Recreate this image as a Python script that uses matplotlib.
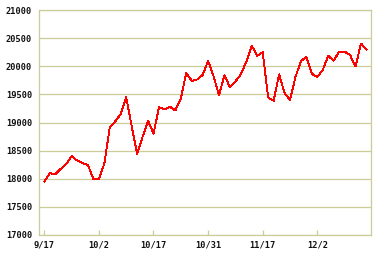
import matplotlib
matplotlib.use("Agg")
import matplotlib.pyplot as plt

# Daily index values (one per trading day)
values = [
    17950, 18100, 18080, 18175, 18260, 18400, 18325, 18280, 18245, 17990,
    18000, 18270, 18920, 19020, 19150, 19450, 18940, 18440, 18745, 19035,
    18800, 19270, 19235, 19280, 19215, 19420, 19885, 19740, 19765, 19845,
    20095, 19825, 19485, 19845, 19625, 19730, 19855, 20080, 20365, 20185,
    20250, 19445, 19385, 19855, 19525, 19400, 19810, 20090, 20170, 19865,
    19810, 19935, 20185, 20100, 20260, 20260, 20200, 19995, 20405, 20295,
]
tick_labels = ["9/17", "10/2", "10/17", "10/31", "11/17", "12/2"]
tick_index = [0, 10, 20, 30, 40, 50]
y_ticks = [17000, 17500, 18000, 18500, 19000, 19500, 20000, 20500, 21000]

W, H = 382, 258
fig = plt.figure(figsize=(W / 100, H / 100), dpi=100)
fig.patch.set_facecolor("white")
ax = fig.add_axes([39 / W, (H - 235) / H, (370.7 - 39) / W, (235 - 10) / H])

grid_col = "#cccc99"
x = list(range(len(values)))
ax.plot(x, values, color="#ff0000", lw=0.65, antialiased=False, zorder=3)

ax.set_xlim(-0.97, 59.78)
ax.set_ylim(17000, 21000)
ax.set_yticks(y_ticks)
ax.set_yticklabels([str(v) for v in y_ticks])
ax.set_xticks(tick_index)
ax.set_xticklabels(tick_labels)

ax.grid(axis="y", color=grid_col, lw=0.9, zorder=1)
for s in ax.spines.values():
    s.set_color(grid_col)
    s.set_linewidth(0.9)

ax.tick_params(axis="x", direction="in", length=3.4, width=0.9, color=grid_col, pad=4)
ax.tick_params(axis="y", length=0, pad=5)
for lab in ax.get_xticklabels() + ax.get_yticklabels():
    lab.set_fontfamily("DejaVu Sans Mono")
    lab.set_fontweight("bold")
    lab.set_fontsize(6.2)
    lab.set_color("#111111")

fig.savefig("out.png", dpi=100)
